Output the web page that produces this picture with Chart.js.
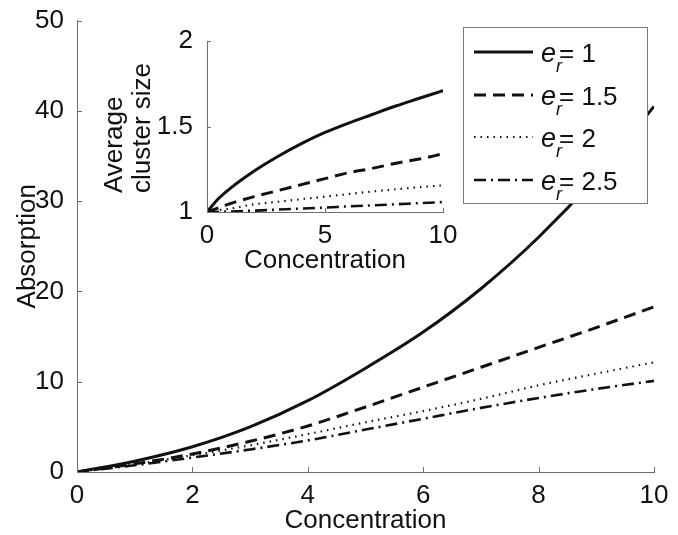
<!DOCTYPE html>
<html>
<head>
<meta charset="utf-8">
<script src="https://cdn.jsdelivr.net/npm/chart.js@4.4.1/dist/chart.umd.min.js"></script>
<style>
  html, body { margin: 0; padding: 0; background: #ffffff; }
  #wrap { position: relative; width: 678px; height: 535px; }
  canvas { position: absolute; left: 0; top: 0; }
</style>
</head>
<body>
<div id="wrap">
  <canvas id="main" width="678" height="535"></canvas>
  <canvas id="inset" width="678" height="535"></canvas>
</div>
<script>
// ---------- data ----------
const concentration = [0, 1, 2, 3, 4, 5, 6, 7, 8, 9, 10];
const concentrationInset = [0, 0.5, 1, 2, 3, 4, 5, 6, 7, 8, 9, 10];
const erValues = ['1', '1.5', '2', '2.5'];

// main plot: Absorption
const absorption_er1   = [0, 1.2, 2.8, 5.0, 7.9, 11.5, 15.5, 20.3, 26.0, 32.7, 40.5];
const absorption_er1_5 = [0, 0.9, 2.0, 3.4, 5.1, 7.2, 9.4, 11.6, 13.8, 16.0, 18.3];
const absorption_er2   = [0, 0.85, 1.85, 2.95, 4.2, 5.5, 6.75, 8.1, 9.6, 10.9, 12.15];
const absorption_er2_5 = [0, 0.75, 1.6, 2.5, 3.5, 4.7, 5.9, 7.1, 8.2, 9.2, 10.1];

// inset: Average cluster size
const cluster_er1   = [1, 1.08, 1.14, 1.24, 1.325, 1.40, 1.465, 1.52, 1.57, 1.62, 1.665, 1.71];
const cluster_er1_5 = [1, 1.025, 1.05, 1.09, 1.125, 1.16, 1.195, 1.23, 1.255, 1.285, 1.31, 1.34];
const cluster_er2   = [1, 1.01, 1.02, 1.045, 1.06, 1.075, 1.09, 1.105, 1.12, 1.133, 1.145, 1.156];
const cluster_er2_5 = [1, 1.001, 1.003, 1.008, 1.014, 1.02, 1.026, 1.033, 1.039, 1.045, 1.052, 1.058];

const mainXTicks = [0, 2, 4, 6, 8, 10];
const mainYTicks = [0, 10, 20, 30, 40, 50];
const insetXTicks = [0, 5, 10];
const insetYTicks = [1, 1.5, 2];

const xTitle = 'Concentration';
const mainYTitle = 'Absorption';
const insetYTitle = ['Average', 'cluster size'];

// ---------- styles ----------
const FONT = "'Liberation Sans', Arial, Helvetica, sans-serif";
const TEXT = '#111111';
const AXIS = '#6e6e6e';
const lineStyles = [
  { borderDash: [], borderWidth: 3 },
  { borderDash: [12, 7], borderWidth: 3 },
  { borderDash: [1.5, 5], borderWidth: 2.2 },
  { borderDash: [12, 5, 2, 5], borderWidth: 2.6 }
];

function makeSets(xs, series) {
  return series.map((vals, i) => ({
    label: 'e_r= ' + erValues[i],
    data: xs.map((c, k) => ({ x: c, y: vals[k] })),
    borderColor: '#111111',
    backgroundColor: '#111111',
    borderWidth: lineStyles[i].borderWidth,
    borderDash: lineStyles[i].borderDash,
    pointRadius: 0,
    fill: false,
    cubicInterpolationMode: 'monotone',
    borderCapStyle: 'butt'
  }));
}

// inward tick marks (MATLAB style)
const innerTicks = {
  id: 'innerTicks',
  afterDraw(chart, args, opts) {
    const ctx = chart.ctx, a = chart.chartArea, len = opts.length;
    const xs = chart.scales.x, ys = chart.scales.y;
    ctx.save();
    ctx.strokeStyle = AXIS;
    ctx.lineWidth = 1;
    ctx.beginPath();
    xs.ticks.forEach(t => {
      const px = Math.round(xs.getPixelForValue(t.value)) + 0.5;
      ctx.moveTo(px, a.bottom); ctx.lineTo(px, a.bottom - len);
    });
    ys.ticks.forEach(t => {
      const py = Math.round(ys.getPixelForValue(t.value)) + 0.5;
      ctx.moveTo(a.left, py); ctx.lineTo(a.left + len, py);
    });
    ctx.stroke();
    ctx.restore();
  }
};

// legend box with e_r subscript labels
const erLegend = {
  id: 'erLegend',
  afterDraw(chart, args, o) {
    const ctx = chart.ctx;
    ctx.save();
    ctx.fillStyle = '#ffffff';
    ctx.fillRect(o.x, o.y, o.w, o.h);
    ctx.strokeStyle = '#7a7a7a';
    ctx.lineWidth = 1;
    ctx.strokeRect(o.x + 0.5, o.y + 0.5, o.w, o.h);
    chart.data.datasets.forEach((ds, i) => {
      const cy = o.rows[i];
      ctx.save();
      ctx.strokeStyle = ds.borderColor;
      ctx.lineWidth = ds.borderWidth;
      ctx.setLineDash(ds.borderDash);
      ctx.beginPath();
      ctx.moveTo(o.lineX0, cy); ctx.lineTo(o.lineX1, cy);
      ctx.stroke();
      ctx.restore();
      const base = cy + 10;
      ctx.fillStyle = TEXT;
      ctx.textBaseline = 'alphabetic';
      ctx.textAlign = 'left';
      ctx.font = 'italic 27px ' + FONT;
      ctx.fillText('e', o.textX, base);
      const ew = ctx.measureText('e').width;
      ctx.font = 'italic 18px ' + FONT;
      ctx.fillText('r', o.textX + ew, base + 10);
      ctx.font = '26px ' + FONT;
      ctx.fillText('= ' + erValues[i], o.textX + ew + 3, base);
    });
    ctx.restore();
  }
};

// left-aligned two-line y title for the inset
const insetTitle = {
  id: 'insetTitle',
  afterDraw(chart, args, o) {
    const ctx = chart.ctx;
    ctx.save();
    ctx.fillStyle = TEXT;
    ctx.font = '26px ' + FONT;
    ctx.textAlign = 'left';
    ctx.textBaseline = 'middle';
    insetYTitle.forEach((line, i) => {
      ctx.save();
      ctx.translate(o.xs[i], o.bottomY);
      ctx.rotate(-Math.PI / 2);
      ctx.fillText(line, 0, 0);
      ctx.restore();
    });
    ctx.restore();
  }
};

function axisOpts(min, max, tickVals, extra) {
  return Object.assign({
    type: 'linear', min: min, max: max,
    grid: { display: false },
    border: { display: true, color: AXIS, width: 1 },
    afterBuildTicks(s) { s.ticks = tickVals.map(v => ({ value: v })); },
  }, extra);
}
const fmt = v => String(v);

// ---------- main chart ----------
new Chart(document.getElementById('main'), {
  type: 'line',
  data: { datasets: makeSets(concentration, [absorption_er1, absorption_er1_5, absorption_er2, absorption_er2_5]) },
  options: {
    responsive: false, animation: false, devicePixelRatio: 1,
    layout: { padding: { top: 18, right: 24, left: 0, bottom: 0 } },
    plugins: {
      legend: { display: false }, tooltip: { enabled: false },
      innerTicks: { length: 5 },
      erLegend: { x: 463, y: 27, w: 184, h: 176, rows: [52, 95, 137, 180], lineX0: 474, lineX1: 533, textX: 541 }
    },
    scales: {
      x: axisOpts(0, 10, mainXTicks, {
        ticks: { color: TEXT, font: { family: FONT, size: 26 }, padding: 0, maxRotation: 0, autoSkip: false, callback: fmt },
        title: { display: true, text: xTitle, color: TEXT, font: { family: FONT, size: 26 }, padding: { top: 0, bottom: -1 } },
        afterFit(s) { s.height = 63; }
      }),
      y: axisOpts(0, 50, mainYTicks, {
        ticks: { color: TEXT, font: { family: FONT, size: 26 }, padding: 5, autoSkip: false, callback: fmt },
        title: { display: true, text: mainYTitle, color: TEXT, font: { family: FONT, size: 26 }, padding: { top: 12, bottom: 0 } },
        afterFit(s) { s.width = 77; }
      })
    }
  },
  plugins: [innerTicks, erLegend]
});

// ---------- inset chart ----------
new Chart(document.getElementById('inset'), {
  type: 'line',
  data: { datasets: makeSets(concentrationInset, [cluster_er1, cluster_er1_5, cluster_er2, cluster_er2_5]) },
  options: {
    responsive: false, animation: false, devicePixelRatio: 1,
    layout: { padding: { top: 41, right: 235, left: 147, bottom: 248 } },
    plugins: {
      legend: { display: false }, tooltip: { enabled: false },
      innerTicks: { length: 4 },
      insetTitle: { xs: [115, 143], bottomY: 193 }
    },
    scales: {
      x: axisOpts(0, 10, insetXTicks, {
        ticks: { color: TEXT, font: { family: FONT, size: 26 }, padding: 0, maxRotation: 0, autoSkip: false, callback: fmt },
        title: { display: true, text: xTitle, color: TEXT, font: { family: FONT, size: 26 }, padding: { top: 0, bottom: 11 } },
        afterFit(s) { s.height = 75; }
      }),
      y: axisOpts(1, 2, insetYTicks, {
        ticks: { color: TEXT, font: { family: FONT, size: 26 }, padding: 6, autoSkip: false, callback: fmt },
        title: { display: false },
        afterFit(s) { s.width = 60; }
      })
    }
  },
  plugins: [innerTicks, insetTitle]
});
</script>
</body>
</html>
